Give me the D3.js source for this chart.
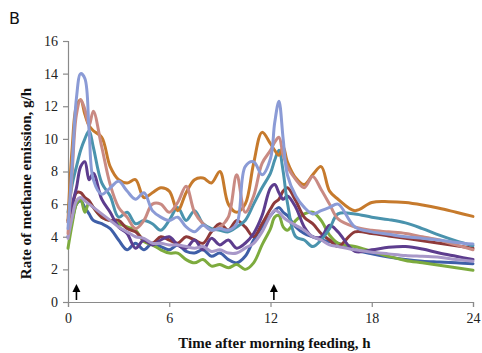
<!DOCTYPE html>
<html><head><meta charset="utf-8">
<script src="https://cdn.jsdelivr.net/npm/d3@7"></script>
<style>
body{margin:0;background:#fff;}
svg{display:block;}
</style></head>
<body>
<script>
// Time grid (h after morning feeding)
const hours = [0,0.25,0.5,0.75,1,1.25,1.5,2,2.5,3,3.5,4,4.5,5,5.5,6,6.5,7,7.5,8,8.5,9,9.5,10,10.5,11,11.5,12,12.25,12.5,12.75,13,13.5,14,14.5,15,15.5,16,17,18,19,20,21,22,23,24];

const blue = [4.0,5.0,6.0,6.2,5.8,5.4,5.0,4.8,4.5,3.8,3.2,3.6,3.2,3.6,3.4,3.2,3.5,3.1,3.0,3.2,2.8,3.0,2.6,2.4,2.8,3.8,4.6,5.3,5.6,5.8,5.5,5.3,4.6,4.2,4.0,3.8,3.7,3.6,3.2,2.95,2.75,2.6,2.5,2.45,2.4,2.35];
const green = [3.3,4.8,6.0,6.3,5.5,6.1,5.8,5.2,5.0,4.8,4.6,4.4,3.7,3.5,3.2,3.0,3.0,2.6,2.4,2.6,2.2,2.3,2.1,2.3,2.0,2.4,3.5,4.5,5.2,5.3,4.6,4.4,5.0,5.4,5.5,5.0,4.1,3.6,3.4,3.1,2.8,2.55,2.4,2.25,2.1,1.95];
const darkRed = [4.9,5.8,6.7,6.7,6.4,6.2,5.8,5.2,5.0,5.0,4.5,4.3,3.8,3.6,4.0,3.8,3.6,4.0,3.8,3.6,4.3,4.8,4.4,5.0,4.6,4.0,4.8,5.7,6.1,6.3,6.8,7.0,6.2,5.2,4.8,4.2,3.8,3.4,4.3,4.2,4.05,3.9,3.75,3.6,3.45,3.3];
const purple = [5.0,6.0,7.0,8.3,8.6,7.5,7.9,6.3,5.5,4.6,4.2,3.3,3.8,3.5,3.8,4.0,3.5,3.3,3.8,3.2,3.9,3.5,3.8,3.3,3.6,4.2,5.3,7.0,7.2,6.7,6.3,6.5,5.8,4.6,4.0,4.0,4.7,4.3,3.1,3.2,3.35,3.4,3.25,3.0,2.8,2.6];
const teal = [5.5,7.2,8.3,9.3,10.0,10.5,9.5,7.3,6.5,5.2,5.5,4.8,5.0,4.8,4.4,5.0,5.8,5.0,5.6,4.8,4.5,4.4,4.3,4.6,5.0,6.0,7.0,7.9,8.7,9.3,8.0,6.1,4.0,3.8,3.4,3.8,4.5,5.4,5.4,5.2,5.05,4.85,4.5,4.1,3.75,3.45];
const lavender = [3.9,5.2,6.2,6.4,6.2,6.0,5.8,5.4,5.0,4.6,4.3,4.0,3.9,3.6,3.6,3.5,3.5,3.4,3.3,3.4,3.1,3.2,3.0,3.0,3.3,3.6,4.3,5.3,5.6,5.5,5.2,5.0,4.7,4.4,4.0,3.8,3.5,3.4,3.2,3.05,2.95,2.85,2.8,2.75,2.6,2.5];
const orange = [5.0,9.5,12.0,12.4,11.5,10.8,10.5,10.1,8.3,7.5,7.3,7.5,6.4,6.7,7.0,6.8,5.6,6.7,7.5,7.6,7.3,8.0,6.0,5.5,6.0,8.5,10.4,9.7,9.3,9.0,9.5,8.6,7.6,7.2,7.8,8.3,6.8,6.3,5.6,6.1,6.15,6.1,5.95,5.75,5.5,5.25];
const salmon = [4.2,8.0,11.5,12.4,11.8,10.8,11.7,9.5,7.2,5.8,5.2,4.5,5.0,6.0,6.0,5.5,6.1,7.1,5.5,4.8,4.4,4.6,5.2,7.8,5.5,6.5,8.5,9.3,9.8,10.1,9.0,8.3,7.5,7.0,7.7,6.9,6.0,5.1,4.6,4.4,4.3,4.2,4.0,3.8,3.5,3.2];
const periwinkle = [4.5,8.5,12.5,14.0,13.7,10.5,7.5,6.6,7.0,7.4,6.8,6.3,6.7,5.6,5.2,5.0,5.2,4.6,4.3,4.7,4.4,4.5,4.4,4.8,8.3,8.6,7.8,8.8,11.0,12.3,10.0,7.8,6.5,5.8,5.4,5.6,5.8,6.0,4.6,4.3,4.15,4.0,3.9,3.8,3.65,3.55];

const seriesNames = ["blue","green","darkRed","purple","teal","lavender","orange","salmon","periwinkle"];
const seriesValues = [blue,green,darkRed,purple,teal,lavender,orange,salmon,periwinkle];
const seriesColors = ["#3f5fa8","#7dab3e","#8e3a3a","#5d3d8e","#4a93ad","#a898c9","#c67a2c","#c98a83","#8b9bd6"];

const xTicks = [0,6,12,18,24];
const yTicks = [0,2,4,6,8,10,12,14,16];
const feedArrows = [0.5,12.2];
const xTitle = "Time after morning feeding, h";
const yTitle = "Rate of methane emission, g/h";
const panelLabel = "B";

const W = 482, H = 353;
const m = {left:68, right:9, top:41, bottom:51};
const svg = d3.select("body").append("svg").attr("width",W).attr("height",H);

const x = d3.scaleLinear().domain([0,24]).range([m.left, W-m.right]);
const y = d3.scaleLinear().domain([0,16]).range([H-m.bottom, m.top]);

const serif = "'Liberation Serif','Times New Roman',serif";

// axes
const yAxis = svg.append("g").attr("transform",`translate(${m.left},0)`)
  .call(d3.axisLeft(y).tickValues(yTicks).tickSize(5).tickPadding(5).tickFormat(d3.format("d")));
const xAxis = svg.append("g").attr("transform",`translate(0,${H-m.bottom})`)
  .call(d3.axisBottom(x).tickValues(xTicks).tickSize(5).tickPadding(6).tickFormat(d3.format("d")));
[yAxis,xAxis].forEach(g=>{
  g.select(".domain").attr("stroke","#8a8a8a").attr("stroke-width",1.2);
  g.selectAll(".tick line").attr("stroke","#8a8a8a").attr("stroke-width",1.2);
  g.selectAll(".tick text").attr("font-family",serif).attr("font-size","14px").attr("fill","#222");
});

// lines
const line = d3.line().x((d,i)=>x(hours[i])).y(d=>y(d)).curve(d3.curveCatmullRom.alpha(0.5));
svg.append("g").selectAll("path").data(seriesValues).join("path")
  .attr("d",d=>line(d))
  .attr("fill","none")
  .attr("stroke",(d,i)=>seriesColors[i])
  .attr("stroke-width",3)
  .attr("stroke-linejoin","round")
  .attr("stroke-linecap","round");

// feeding arrows
const ag = svg.append("g");
feedArrows.forEach(t=>{
  const cx = x(t), base = y(0)-2;
  ag.append("line").attr("x1",cx).attr("x2",cx).attr("y1",base).attr("y2",base-10)
    .attr("stroke","#000").attr("stroke-width",1.6);
  ag.append("path").attr("d",`M${cx-4},${base-8} L${cx},${base-16} L${cx+4},${base-8} Z`).attr("fill","#000");
});

// titles
svg.append("text").attr("x",(m.left+W-m.right)/2+4).attr("y",348)
  .attr("text-anchor","middle").attr("font-family",serif).attr("font-weight","bold")
  .attr("font-size","15px").attr("fill","#111").text(xTitle);
svg.append("text").attr("transform",`translate(31,${(m.top+H-m.bottom)/2+12}) rotate(-90)`)
  .attr("text-anchor","middle").attr("font-family",serif).attr("font-weight","bold")
  .attr("font-size","15px").attr("fill","#111").text(yTitle);
svg.append("text").attr("x",9).attr("y",24).attr("font-family","'DejaVu Sans',sans-serif")
  .attr("font-size","16px").attr("fill","#111").text(panelLabel);
</script>
</body></html>
